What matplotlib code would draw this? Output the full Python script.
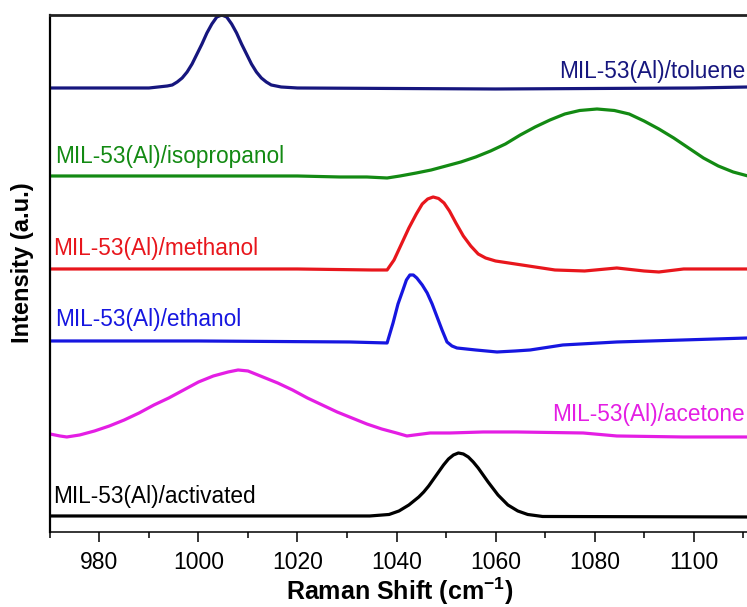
import matplotlib
matplotlib.use("Agg")
import matplotlib.pyplot as plt
from matplotlib.ticker import MultipleLocator, NullLocator

plt.rcParams['font.family'] = ['Liberation Sans', 'DejaVu Sans']
plt.rcParams['mathtext.fontset'] = 'custom'
plt.rcParams['mathtext.rm'] = 'Liberation Sans'
plt.rcParams['mathtext.bf'] = 'Liberation Sans:bold'

# Raman shift (cm-1) and stacked intensities (a.u.)
toluene_x = [970, 990, 993.7, 994.7, 995.7, 996.7, 997.7, 998.7, 999.7, 1000.7, 1001.7,
             1002.7, 1003.7, 1004.7, 1005.7, 1006.7, 1007.7, 1008.7, 1009.7, 1010.7,
             1011.7, 1012.7, 1013.7, 1014.7, 1016.7, 1020, 1060, 1100, 1111]
toluene_y = [444, 444, 446, 447, 450, 454, 460, 468, 478, 488, 499, 508, 515, 517, 515,
             508, 499, 488, 478, 468, 460, 454, 450, 447, 445, 444, 443, 444, 445]

isoprop_x = [970, 1000, 1020, 1028.6, 1034, 1038.1, 1040.7, 1044, 1047, 1050, 1053, 1056,
             1059, 1062, 1065, 1068, 1071, 1074, 1077, 1080.5, 1084, 1087, 1090, 1093,
             1096, 1099, 1102, 1105, 1108, 1111]
isoprop_y = [356, 356, 356, 355, 355, 354, 356, 359, 362, 366, 370, 375, 381, 388, 397,
             405, 412, 418, 421.5, 423, 421.5, 418, 411, 403, 394, 384, 374, 366, 360, 356]

methanol_x = [970, 1000, 1020, 1035, 1038.1, 1039.5, 1041, 1042.5, 1044, 1045.2, 1046.3,
              1047.4, 1048.5, 1049.6, 1050.7, 1052, 1053.5, 1055, 1056.5, 1058, 1060,
              1064, 1068, 1072, 1078, 1084.5, 1090, 1093, 1098, 1111]
methanol_y = [263, 263, 263, 262, 262, 272, 288, 304, 318, 328, 333, 335, 333.5, 329, 321,
              309, 296, 286, 278, 274, 271, 268, 265, 262, 261, 264, 261, 260, 263, 263]

ethanol_x = [970, 1000, 1030.6, 1038.1, 1039.3, 1040.3, 1041.3, 1042, 1042.7, 1043.4,
             1044.1, 1045.2, 1046.2, 1047.2, 1048.2, 1049.2, 1050.2, 1051.2, 1052.2, 1056,
             1060.3, 1064, 1067.0, 1073.6, 1084.5, 1097.9, 1111]
ethanol_y = [191, 191, 190, 189, 209, 228, 242, 252, 257, 257, 254, 247, 239, 228, 215,
             202, 190, 186, 184, 182, 180, 181, 182, 187, 190, 192, 194]

acetone_x = [970, 972, 973.4, 976, 979, 982, 985, 988, 991, 994, 997, 1000, 1003, 1006,
             1008, 1010, 1013, 1016, 1019, 1022, 1025, 1028, 1031, 1034, 1037, 1040,
             1042.1, 1046.8, 1050.8, 1057.5, 1064.3, 1077.7, 1084.5, 1097.9, 1111]
acetone_y = [98, 96, 95, 97, 101, 106, 112, 119, 127, 134, 142, 150, 156, 160, 162, 161,
             155, 149, 142, 134, 127, 120, 114, 108, 103, 99, 96, 99, 99, 100, 100, 99, 96,
             95, 95]

activated_x = [970, 1034.6, 1038.5, 1040.5, 1042.5, 1044.5, 1045.5, 1046.5, 1047.5, 1048.5,
               1049.5, 1050.5, 1051.5, 1052.5, 1053.5, 1054.5, 1055.5, 1056.5, 1057.5,
               1058.5, 1059.5, 1060.5, 1062.5, 1064.5, 1066.5, 1069.5, 1111]
activated_y = [16, 16, 17.5, 21, 27, 35, 40, 46, 53, 60, 67, 73, 77, 79, 78, 75, 70, 64,
               57, 50, 43.5, 37, 27, 21, 17.5, 15.5, 15]

series = [
    ("MIL-53(Al)/toluene", toluene_x, toluene_y, '#16167e'),
    ("MIL-53(Al)/isopropanol", isoprop_x, isoprop_y, '#138a13'),
    ("MIL-53(Al)/methanol", methanol_x, methanol_y, '#e8161c'),
    ("MIL-53(Al)/ethanol", ethanol_x, ethanol_y, '#1616e0'),
    ("MIL-53(Al)/acetone", acetone_x, acetone_y, '#e41ee4'),
    ("MIL-53(Al)/activated", activated_x, activated_y, '#000000'),
]

# label anchor (x, y, alignment)
label_pos = {
    "MIL-53(Al)/toluene": (1110.4, 460, 'right'),
    "MIL-53(Al)/isopropanol": (971.0, 375, 'left'),
    "MIL-53(Al)/methanol": (970.6, 283, 'left'),
    "MIL-53(Al)/ethanol": (971.0, 212, 'left'),
    "MIL-53(Al)/acetone": (1110.4, 117, 'right'),
    "MIL-53(Al)/activated": (970.6, 35, 'left'),
}

fig = plt.figure(figsize=(7.47, 6.07), dpi=100)
ax = fig.add_axes([0.0669, 0.1236, 0.9331, 0.8517])

for name, xs, ys, c in series:
    ax.plot(xs, ys, color=c, lw=2.3, solid_joinstyle='round', solid_capstyle='round')
    lx, ly, ha = label_pos[name]
    ax.text(lx, ly, name, color=c, fontsize=16.3, ha=ha, va='center')

ax.set_xlim(970, 1110.8)
ax.set_ylim(0, 517)
ax.xaxis.set_major_locator(MultipleLocator(20))
ax.xaxis.set_minor_locator(MultipleLocator(10))
ax.yaxis.set_major_locator(NullLocator())
ax.tick_params(axis='x', which='major', direction='out', length=7, width=1.1,
               labelsize=16.5, pad=7)
ax.tick_params(axis='x', which='minor', direction='out', length=4, width=1.1)

ax.spines['right'].set_visible(False)
ax.spines['top'].set_linewidth(2.0)
ax.spines['top'].set_color('#222222')
ax.spines['left'].set_linewidth(1.6)
ax.spines['bottom'].set_linewidth(1.1)

fig.text(0.5355, 0.026, r'Raman Shift (cm$^{\mathbf{-1}}$)', fontsize=18,
         fontweight='bold', ha='center', va='center')
fig.text(0.0295, 0.568, 'Intensity (a.u.)', fontsize=17, fontweight='bold',
         rotation=90, ha='center', va='center')

fig.savefig("out.png", dpi=100)
